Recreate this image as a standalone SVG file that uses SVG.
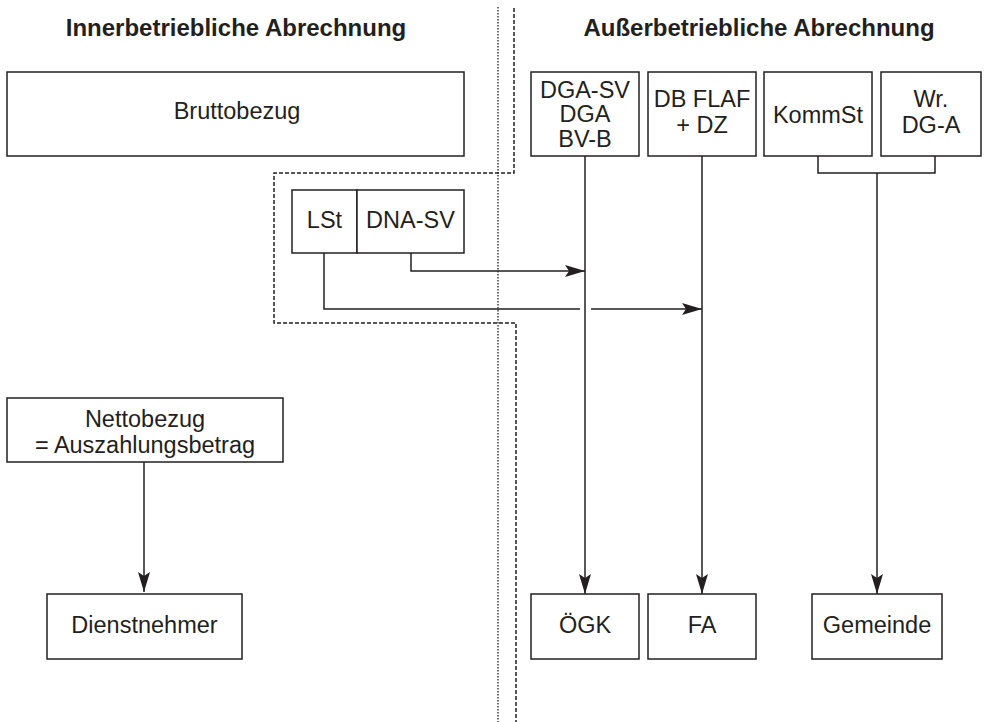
<svg xmlns="http://www.w3.org/2000/svg" width="987" height="722" viewBox="0 0 987 722">
<style>
.box{fill:#fff;stroke:#231f20;stroke-width:1.5}
.t{font-family:"Liberation Sans",Arial,sans-serif;font-size:23.5px;fill:#231f20;text-anchor:middle}
.h{font-family:"Liberation Sans",Arial,sans-serif;font-size:24px;font-weight:bold;fill:#231f20;text-anchor:middle}
.ln{fill:none;stroke:#231f20;stroke-width:1.5}
.arr{fill:none;stroke:#231f20;stroke-width:1.5;marker-end:url(#ah)}
.dot{fill:none;stroke:#231f20;stroke-width:1.3;stroke-dasharray:1.5 1.5}
.dash{fill:none;stroke:#231f20;stroke-width:1.5;stroke-dasharray:4 2}
</style>
<defs>
<marker id="ah" markerUnits="userSpaceOnUse" markerWidth="22" markerHeight="14" refX="20" refY="6" orient="auto">
<path d="M0,0 L20,6 L0,12 L4,6 z" fill="#231f20"/>
</marker>
</defs>
<rect width="987" height="722" fill="#fff"/>
<g id="headings">
<text class="h" x="236" y="36">Innerbetriebliche Abrechnung</text>
<text class="h" x="759" y="36">Außerbetriebliche Abrechnung</text>
</g>
<g id="separators">
<path class="dot" d="M498,7 V722"/>
<path class="dash" d="M514,8 V173 H274 V323 H516 V722"/>
</g>
<g id="connectors">
<path class="arr" d="M411,253 V271 H585"/>
<path class="ln" d="M324,253 V309 H580"/>
<path class="arr" d="M591,309 H702"/>
<path class="arr" d="M585,156 V594"/>
<path class="arr" d="M702,156 V594"/>
<path class="ln" d="M818,156 V173 H935 V156"/>
<path class="arr" d="M877,173 V594"/>
<path class="arr" d="M144,462 V592"/>
</g>
<g id="bruttobezug"><rect class="box" x="7" y="72" width="457" height="84"/><text class="t" x="237" y="119">Bruttobezug</text></g>
<g id="lst"><rect class="box" x="292" y="190" width="65" height="63"/><text class="t" x="324.5" y="228">LSt</text></g>
<g id="dna-sv"><rect class="box" x="357" y="190" width="107" height="63"/><text class="t" x="410.5" y="228">DNA-SV</text></g>
<g id="dga"><rect class="box" x="531" y="72" width="108" height="84"/><text class="t" x="585" y="97.5">DGA-SV</text><text class="t" x="585" y="122">DGA</text><text class="t" x="585" y="146.5">BV-B</text></g>
<g id="dbflaf"><rect class="box" x="648" y="72" width="108" height="84"/><text class="t" x="702" y="106.5">DB FLAF</text><text class="t" x="702" y="132.5">+ DZ</text></g>
<g id="kommst"><rect class="box" x="764" y="72" width="108" height="84"/><text class="t" x="818" y="123">KommSt</text></g>
<g id="wrdga"><rect class="box" x="881" y="72" width="100" height="84"/><text class="t" x="931" y="107">Wr.</text><text class="t" x="931" y="133">DG-A</text></g>
<g id="nettobezug"><rect class="box" x="7" y="398" width="276" height="64"/><text class="t" x="145" y="426.5">Nettobezug</text><text class="t" x="145" y="453">= Auszahlungsbetrag</text></g>
<g id="dienstnehmer"><rect class="box" x="47" y="594" width="195" height="65"/><text class="t" x="144.5" y="633">Dienstnehmer</text></g>
<g id="oegk"><rect class="box" x="531" y="594" width="108" height="65"/><text class="t" x="585" y="633">ÖGK</text></g>
<g id="fa"><rect class="box" x="648" y="594" width="108" height="65"/><text class="t" x="702" y="633">FA</text></g>
<g id="gemeinde"><rect class="box" x="812" y="594" width="130" height="65"/><text class="t" x="877" y="633">Gemeinde</text></g>
</svg>
